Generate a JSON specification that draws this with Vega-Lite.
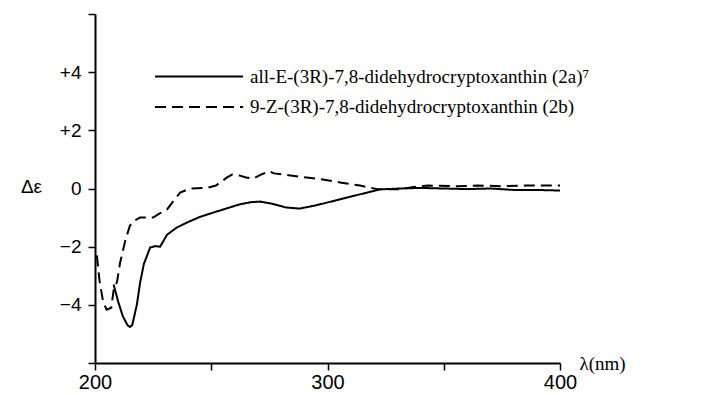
{
  "$schema": "https://vega.github.io/schema/vega-lite/v6.json",
  "width": 465,
  "height": 349,
  "autosize": {"type": "none"},
  "padding": {"left": 95, "top": 14, "right": 147, "bottom": 32},
  "background": "white",
  "config": {"view": {"stroke": null}, "font": "Liberation Serif"},
  "datasets": {
    "curves": [
      {"series": "2a", "wl": 208, "de": -3.3},
      {"series": "2a", "wl": 210, "de": -3.9},
      {"series": "2a", "wl": 212, "de": -4.4},
      {"series": "2a", "wl": 214, "de": -4.7},
      {"series": "2a", "wl": 215, "de": -4.76},
      {"series": "2a", "wl": 216, "de": -4.7},
      {"series": "2a", "wl": 218, "de": -4.0},
      {"series": "2a", "wl": 219.4, "de": -3.24},
      {"series": "2a", "wl": 221, "de": -2.6},
      {"series": "2a", "wl": 223.7, "de": -2.03},
      {"series": "2a", "wl": 226, "de": -1.98},
      {"series": "2a", "wl": 228, "de": -2.0},
      {"series": "2a", "wl": 231, "de": -1.59},
      {"series": "2a", "wl": 235, "de": -1.35},
      {"series": "2a", "wl": 239.6, "de": -1.17},
      {"series": "2a", "wl": 245, "de": -0.98},
      {"series": "2a", "wl": 250.8, "de": -0.83},
      {"series": "2a", "wl": 256, "de": -0.7},
      {"series": "2a", "wl": 262, "de": -0.55},
      {"series": "2a", "wl": 267, "de": -0.47},
      {"series": "2a", "wl": 271, "de": -0.45},
      {"series": "2a", "wl": 276, "de": -0.52},
      {"series": "2a", "wl": 282, "de": -0.65},
      {"series": "2a", "wl": 288, "de": -0.69},
      {"series": "2a", "wl": 295, "de": -0.58},
      {"series": "2a", "wl": 305, "de": -0.38},
      {"series": "2a", "wl": 314, "de": -0.2},
      {"series": "2a", "wl": 322.6, "de": -0.03},
      {"series": "2a", "wl": 331, "de": 0},
      {"series": "2a", "wl": 340, "de": 0.02},
      {"series": "2a", "wl": 350, "de": 0},
      {"series": "2a", "wl": 360, "de": -0.02},
      {"series": "2a", "wl": 370, "de": 0},
      {"series": "2a", "wl": 380, "de": -0.05},
      {"series": "2a", "wl": 390, "de": -0.05},
      {"series": "2a", "wl": 400, "de": -0.07},
      {"series": "2b", "wl": 200.8, "de": -2.3},
      {"series": "2b", "wl": 202, "de": -3.2},
      {"series": "2b", "wl": 203.5, "de": -3.9},
      {"series": "2b", "wl": 205, "de": -4.17},
      {"series": "2b", "wl": 207, "de": -4.1},
      {"series": "2b", "wl": 208, "de": -3.5},
      {"series": "2b", "wl": 209.5, "de": -3.2},
      {"series": "2b", "wl": 210.8, "de": -2.55},
      {"series": "2b", "wl": 213, "de": -1.8},
      {"series": "2b", "wl": 215, "de": -1.28},
      {"series": "2b", "wl": 217, "de": -1.1},
      {"series": "2b", "wl": 219.4, "de": -1.0},
      {"series": "2b", "wl": 225, "de": -1.0},
      {"series": "2b", "wl": 228, "de": -0.85},
      {"series": "2b", "wl": 231, "de": -0.72},
      {"series": "2b", "wl": 234, "de": -0.4},
      {"series": "2b", "wl": 236.6, "de": -0.14},
      {"series": "2b", "wl": 241, "de": 0},
      {"series": "2b", "wl": 248, "de": 0.02},
      {"series": "2b", "wl": 252, "de": 0.1},
      {"series": "2b", "wl": 256.8, "de": 0.38},
      {"series": "2b", "wl": 259, "de": 0.48},
      {"series": "2b", "wl": 262, "de": 0.45},
      {"series": "2b", "wl": 265, "de": 0.38},
      {"series": "2b", "wl": 268, "de": 0.34},
      {"series": "2b", "wl": 272, "de": 0.5},
      {"series": "2b", "wl": 275, "de": 0.59},
      {"series": "2b", "wl": 277, "de": 0.52},
      {"series": "2b", "wl": 284, "de": 0.45},
      {"series": "2b", "wl": 291, "de": 0.38},
      {"series": "2b", "wl": 298, "de": 0.31},
      {"series": "2b", "wl": 306, "de": 0.2},
      {"series": "2b", "wl": 314, "de": 0.1},
      {"series": "2b", "wl": 322, "de": -0.03},
      {"series": "2b", "wl": 331, "de": -0.03},
      {"series": "2b", "wl": 337, "de": 0.05},
      {"series": "2b", "wl": 343, "de": 0.1},
      {"series": "2b", "wl": 355, "de": 0.08},
      {"series": "2b", "wl": 365, "de": 0.1},
      {"series": "2b", "wl": 375, "de": 0.08},
      {"series": "2b", "wl": 385, "de": 0.1},
      {"series": "2b", "wl": 400, "de": 0.1}
    ],
    "legend": [
      {"series": "2a", "x0": 225.8, "x1": 263.7, "y": 3.85, "label": "all-E-(3R)-7,8-didehydrocryptoxanthin (2a)⁷"},
      {"series": "2b", "x0": 225.8, "x1": 263.7, "y": 2.8, "label": "9-Z-(3R)-7,8-didehydrocryptoxanthin (2b)"}
    ]
  },
  "layer": [
    {
      "data": {"name": "curves"},
      "mark": {"type": "line", "color": "black", "strokeWidth": 2},
      "encoding": {
        "x": {
          "field": "wl", "type": "quantitative",
          "scale": {"domain": [200, 400], "nice": false, "zero": false},
          "axis": {
            "values": [200, 250, 300, 350, 400],
            "labelExpr": "datum.value % 100 === 0 ? datum.label : ''",
            "format": "d",
            "grid": false,
            "labelFlush": false,
            "domainColor": "black", "domainWidth": 2,
            "tickColor": "black", "tickWidth": 1.5, "tickSize": 7,
            "labelFont": "Liberation Sans", "labelFontSize": 20, "labelColor": "black", "labelPadding": 2,
            "title": "λ(nm)", "titleFont": "Liberation Serif", "titleFontSize": 19, "titleFontWeight": "normal",
            "titleColor": "black", "titleX": 484, "titleY": 0, "titleAlign": "left", "titleBaseline": "middle"
          }
        },
        "y": {
          "field": "de", "type": "quantitative",
          "scale": {"domain": [-6, 6], "nice": false, "zero": false},
          "axis": {
            "values": [-6, -4, -2, 0, 2, 4, 6],
            "labelExpr": "datum.value === 0 ? '0' : (abs(datum.value) == 6 ? '' : (datum.value > 0 ? '+' + datum.value : '−' + abs(datum.value)))",
            "grid": false,
            "labelFlush": false,
            "domainColor": "black", "domainWidth": 2,
            "tickColor": "black", "tickWidth": 1.5, "tickSize": 7,
            "labelFont": "Liberation Sans", "labelFontSize": 19, "labelColor": "black", "labelPadding": 7,
            "title": "Δε", "titleFont": "Liberation Sans", "titleFontSize": 19, "titleFontWeight": "normal",
            "titleColor": "black", "titleAngle": 0, "titleX": -64, "titleY": 172, "titleAlign": "center", "titleBaseline": "middle"
          }
        },
        "detail": {"field": "series"},
        "strokeDash": {
          "field": "series", "type": "nominal",
          "scale": {"domain": ["2a", "2b"], "range": [[1, 0], [11, 6]]},
          "legend": null
        }
      }
    },
    {
      "mark": {"type": "rule", "color": "black", "strokeWidth": 1.5},
      "encoding": {"y": {"datum": 0}}
    },
    {
      "data": {"name": "legend"},
      "mark": {"type": "rule", "color": "black", "strokeWidth": 2},
      "encoding": {
        "x": {"field": "x0", "type": "quantitative"},
        "x2": {"field": "x1"},
        "y": {"field": "y", "type": "quantitative"},
        "strokeDash": {
          "field": "series", "type": "nominal",
          "scale": {"domain": ["2a", "2b"], "range": [[1, 0], [11, 6]]},
          "legend": null
        }
      }
    },
    {
      "data": {"name": "legend"},
      "mark": {"type": "text", "align": "left", "baseline": "middle", "dx": 7, "font": "Liberation Serif", "fontSize": 19, "color": "black"},
      "encoding": {
        "x": {"field": "x1", "type": "quantitative"},
        "y": {"field": "y", "type": "quantitative"},
        "text": {"field": "label"}
      }
    }
  ]
}
